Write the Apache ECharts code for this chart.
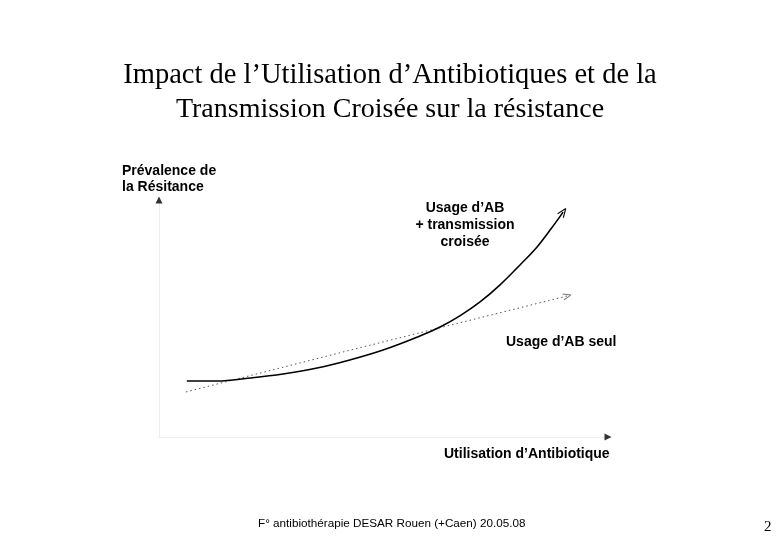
<!DOCTYPE html>
<html><head><meta charset="utf-8">
<script src="https://cdn.jsdelivr.net/npm/echarts@6/dist/echarts.min.js"></script>
<style>html,body{margin:0;padding:0;background:#fff}#c{width:780px;height:540px}</style>
</head><body><div id="c"></div>
<script>
// Solid curve: antibiotic use + cross transmission
var curveCombined = [[6.2,23.6],[12.9,23.6],[20.3,24.9],[27.6,26.6],[35.2,29.1],[42.5,32.5],[49.9,36.7],[58.1,42.6],[62.6,46.4],[67.0,51.1],[71.5,57.0],[75.9,64.1],[80.4,72.6],[84.2,80.2],[87.1,87.3],[90.0,94.9]];
// Dotted line: antibiotic use alone
var curveAlone = [[6.0,19.0],[42.5,36.6],[90.9,59.5]];
var titleLines = ['Impact de l\u2019Utilisation d\u2019Antibiotiques et de la','Transmission Croisée sur la résistance'];
var yLabel = ['Prévalence de','la Résitance'];
var xLabel = 'Utilisation d\u2019Antibiotique';
var labelCombined = ['Usage d\u2019AB','+ transmission','croisée'];
var labelAlone = 'Usage d\u2019AB seul';
var footer = 'F° antibiothérapie DESAR Rouen (+Caen) 20.05.08';
var pageNo = '2';
var axisArrows = [[0,100],[100,0]];

var chart = echarts.init(document.getElementById('c'), null, {renderer:'canvas'});
var bold = {fontFamily:'Liberation Sans, Arial, sans-serif', fontWeight:'bold', fontSize:14, fill:'#000'};
function angle(a){
  var p=a[a.length-2], q=a[a.length-1];
  var dx=(q[0]-p[0])*4.49, dy=(q[1]-p[1])*2.37;
  return Math.atan2(dy,dx)*180/Math.PI - 90;
}
chart.setOption({
  animation:false,
  backgroundColor:'#fff',
  grid:{left:159,right:172,top:200,bottom:103},
  xAxis:{type:'value',min:0,max:100,axisLine:{show:true,lineStyle:{color:'#eeeeee',width:1}},axisTick:{show:false},axisLabel:{show:false},splitLine:{show:false}},
  yAxis:{type:'value',min:0,max:100,axisLine:{show:true,lineStyle:{color:'#eeeeee',width:1}},axisTick:{show:false},axisLabel:{show:false},splitLine:{show:false}},
  series:[
    {type:'line',name:'combined',data:curveCombined.map(function(d,i,a){
        if(i===a.length-1) return {value:d,symbol:'path://M0,0 L-6,12 M0,0 L6,12',symbolSize:[7,9],symbolRotate:angle(a),symbolKeepAspect:true,itemStyle:{color:'none',borderColor:'#000',borderWidth:1.2}};
        return {value:d,symbol:'none'};
      }),
      smooth:0.4,lineStyle:{color:'#000',width:1.6},showSymbol:true,z:3},
    {type:'line',name:'alone',data:curveAlone.map(function(d,i,a){
        if(i===a.length-1) return {value:d,symbol:'path://M0,0 L-6,12 M0,0 L6,12',symbolSize:[6,8],symbolRotate:angle(a),symbolKeepAspect:true,itemStyle:{color:'none',borderColor:'#777',borderWidth:1}};
        return {value:d,symbol:'none'};
      }),
      lineStyle:{color:'#555',width:1,type:[1.5,3]},showSymbol:true,z:2},
    {type:'scatter',data:axisArrows.map(function(d,i){return {value:d,symbolRotate:i===0?0:-90};}),
      symbol:'triangle',symbolSize:[7,7],itemStyle:{color:'#000'},z:4,silent:true}
  ],
  graphic:[
    {type:'text',left:'center',top:61,style:{text:titleLines[0],font:'28.5px "Liberation Serif", "Times New Roman", serif',fill:'#000'}},
    {type:'text',left:'center',top:96,style:{text:titleLines[1],font:'28px "Liberation Serif", "Times New Roman", serif',fill:'#000'}},
    {type:'text',x:122,y:163,style:Object.assign({text:yLabel.join('\n'),lineHeight:16},bold)},
    {type:'text',x:465,y:200,style:Object.assign({text:labelCombined.join('\n'),lineHeight:17,align:'center'},bold)},
    {type:'text',x:506,y:335,style:Object.assign({text:labelAlone},bold)},
    {type:'text',x:444,y:447,style:Object.assign({text:xLabel},bold)},
    {type:'text',x:258,y:518,style:{text:footer,font:'11.7px "Liberation Sans", Arial, sans-serif',fill:'#000'}},
    {type:'text',x:764,y:520,style:{text:pageNo,font:'15px "Liberation Serif", serif',fill:'#000'}}
  ]
});
</script></body></html>
